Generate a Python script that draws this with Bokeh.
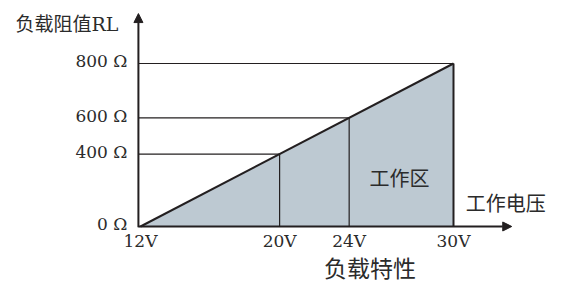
from bokeh.plotting import figure
from bokeh.models import Range1d, Arrow, NormalHead
from bokeh.core.properties import value
from bokeh.embed import file_html
from bokeh.resources import INLINE

# ---- data ----
volts = [12, 20, 24, 30]
volt_labels = ["12V", "20V", "24V", "30V"]
ohm_labels = ["0 Ω", "400 Ω", "600 Ω", "800 Ω"]
r_max = 800
y_title = "负载阻值RL"
x_title = "工作电压"
zone_label = "工作区"
chart_title = "负载特性"

v0, v1 = volts[0], volts[-1]
def ypos(v):
    return (v - v0) / (v1 - v0) * r_max
levels = [ypos(v) for v in volts]

p = figure(width=553, height=287, output_backend="svg", toolbar_location=None,
           x_range=Range1d(4.409, 35.751), y_range=Range1d(-299.4, 1069.9),
           min_border_left=8, min_border_top=8,
           min_border_right=0, min_border_bottom=0)
p.axis.visible = False
p.grid.visible = False
p.outline_line_color = None
p.background_fill_color = "white"
p.border_fill_color = "white"

ink = "#231f20"
fill = "#bdc9d2"
axis_x = v0 - 0.12

# working-zone triangle
p.patch([v0, v1, v1], [0, 0, r_max], fill_color=fill, line_color=None)

# horizontal guide lines from y axis to the characteristic
p.segment(x0=[axis_x] * 3, y0=levels[1:], x1=volts[1:], y1=levels[1:],
          line_color=ink, line_width=1.2)
# vertical lines at intermediate voltages
p.segment(x0=volts[1:-1], y0=[0] * 2, x1=volts[1:-1], y1=levels[1:-1],
          line_color=ink, line_width=1.2)
# right edge
p.segment(x0=[v1], y0=[0], x1=[v1], y1=[r_max], line_color=ink, line_width=2)
# characteristic line
p.line([v0, v1], [0, r_max], line_color=ink, line_width=2)

# axes with arrows
p.add_layout(Arrow(x_start=axis_x, y_start=-4, x_end=axis_x, y_end=1045,
                   line_color=ink, line_width=2,
                   end=NormalHead(size=9, fill_color=ink, line_color=ink)))
p.add_layout(Arrow(x_start=axis_x, y_start=0, x_end=33.35, y_end=0,
                   line_color=ink, line_width=2,
                   end=NormalHead(size=9, fill_color=ink, line_color=ink)))

font = value("DejaVu Serif, Noto Sans CJK SC")
cjk = value("Noto Sans CJK SC")
tcol = "#2b2b2b"

# y tick labels
p.text(x=[axis_x] * 4, y=levels, text=ohm_labels, x_offset=-11, y_offset=-2,
       text_align="right", text_baseline="middle", text_font=font,
       text_font_size="17px", text_color=tcol)
# x tick labels
p.text(x=volts, y=[0] * 4, text=volt_labels, y_offset=15,
       text_align="center", text_baseline="middle", text_font=font,
       text_font_size="17px", text_color=tcol)

# axis titles
p.text(x=[axis_x], y=[1045], text=[y_title], x_offset=-123, y_offset=10,
       text_align="left", text_baseline="middle", text_font=font,
       text_font_size="19px", text_color=tcol)
p.text(x=[33.35], y=[0], text=[x_title], x_offset=-46, y_offset=-24,
       text_align="left", text_baseline="middle", text_font=cjk,
       text_font_size="20px", text_color=tcol)
p.text(x=[26.9], y=[240], text=[zone_label],
       text_align="center", text_baseline="middle", text_font=cjk,
       text_font_size="20px", text_color=tcol)
p.text(x=[25.2], y=[-201], text=[chart_title],
       text_align="center", text_baseline="middle", text_font=cjk,
       text_font_size="23px", text_color=tcol)

open("out.html", "w").write(file_html(p, INLINE))
